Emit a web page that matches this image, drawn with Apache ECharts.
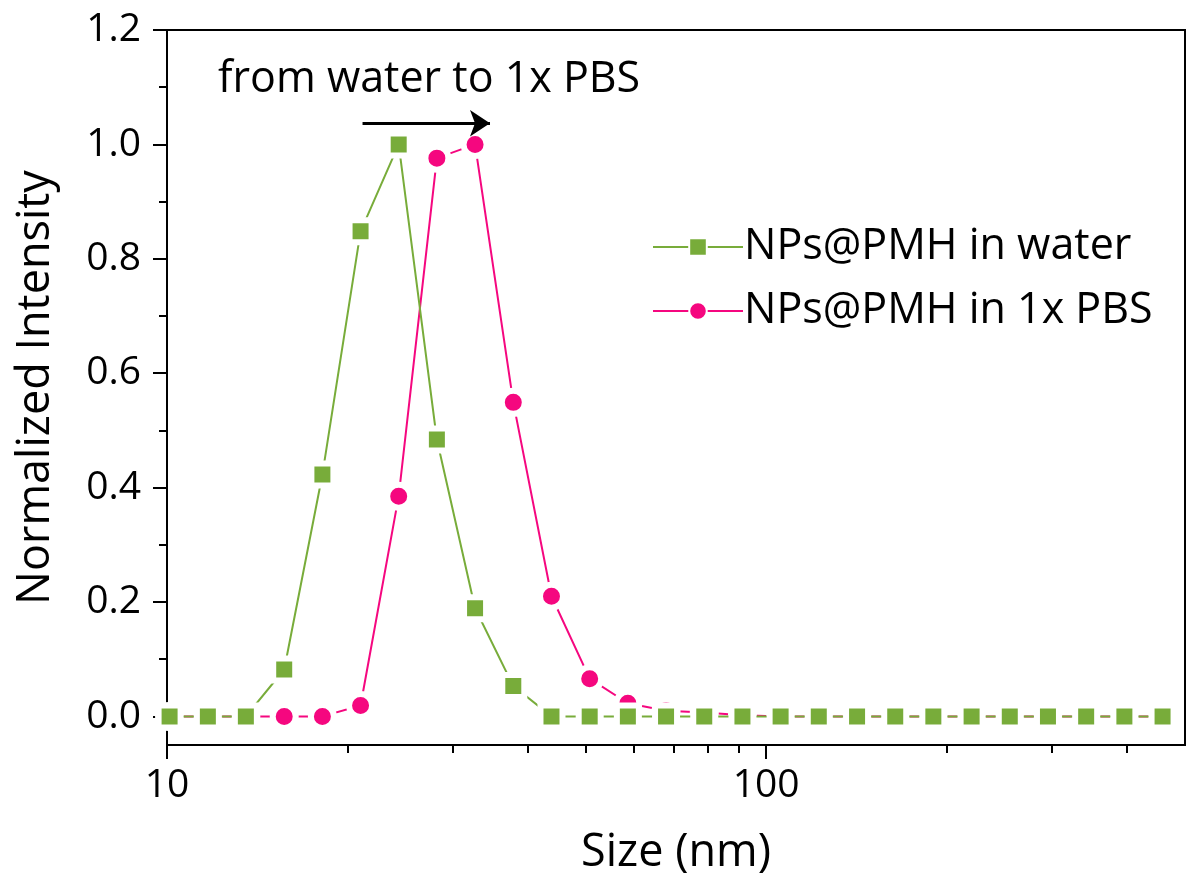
<!DOCTYPE html>
<html>
<head>
<meta charset="utf-8">
<script src="https://cdn.jsdelivr.net/npm/echarts@6/dist/echarts.min.js"></script>
<style>
  html, body { margin: 0; padding: 0; background: #fff; }
  #chart { width: 1187px; height: 881px; }
</style>
</head>
<body>
<div id="chart"></div>
<script>
// ---- data ----
const sizes = [10.1, 11.7, 13.54, 15.69, 18.17, 21.04, 24.36, 28.21, 32.67, 37.84, 43.82, 50.75, 58.77, 68.06, 78.82, 91.28, 105.7, 122.4, 141.8, 164.2, 190.1, 220.2, 255.0, 295.3, 342.0, 396.1, 458.7];
const waterValues = [0, 0, 0, 0.082, 0.423, 0.848, 1.0, 0.484, 0.189, 0.053, 0, 0, 0, 0, 0, 0, 0, 0, 0, 0, 0, 0, 0, 0, 0, 0, 0];
const pbsValues   = [0, 0, 0, 0, 0, 0.019, 0.385, 0.976, 1.0, 0.549, 0.21, 0.066, 0.023, 0.010, 0.007, 0.002, 0, 0, 0, 0, 0, 0, 0, 0, 0, 0, 0];
const seriesNames = ['NPs@PMH in water', 'NPs@PMH in 1x PBS'];
const xMajorTicks = [10, 100];
const xMinorTicks = [20, 30, 40, 50, 60, 70, 80, 90, 200, 300, 400];
const yMajorTicks = [0, 0.2, 0.4, 0.6, 0.8, 1.0, 1.2];
const yMinorTicks = [0.1, 0.3, 0.5, 0.7, 0.9, 1.1];
const arrowFrom = [21.2, 1.037];
const arrowTo = [34.6, 1.037];
const annotationText = 'from water to 1x PBS';

const FONT = '"Open Sans", "Noto Sans", sans-serif';
const GREEN = '#78AC3A';
const PINK = '#F5077F';
const TICK_FS = 39;
const TEXT_FS = 43;
const TITLE_FS = 45;

const chart = echarts.init(document.getElementById('chart'), null, { renderer: 'canvas' });

const pairs = (xs, ys) => xs.map((x, i) => [x, ys[i]]);

const option = {
  animation: false,
  backgroundColor: '#fff',
  textStyle: { fontFamily: FONT },
  grid: {
    left: 167, right: 2, top: 30, bottom: 136,
    show: true, borderColor: '#000', borderWidth: 2, backgroundColor: 'transparent'
  },
  legend: {
    orient: 'vertical',
    left: 647, top: 217,
    itemWidth: 90, itemHeight: 22, itemGap: 14,
    data: seriesNames,
    textStyle: { fontFamily: FONT, fontSize: TEXT_FS, color: '#000', lineHeight: 50, padding: [0, 0, 0, -4] },
    selectedMode: false
  },
  xAxis: [
    {
      type: 'log', logBase: 10, min: 10, max: 500, position: 'bottom',
      name: 'Size (nm)', nameLocation: 'middle', nameGap: 86,
      nameTextStyle: { fontFamily: FONT, fontSize: TITLE_FS, color: '#000' },
      axisLine: { show: true, onZero: false, lineStyle: { color: '#000', width: 2 } },
      axisTick: { show: true, inside: false, length: 14, lineStyle: { color: '#000', width: 2 }, customValues: xMajorTicks },
      axisLabel: { show: true, margin: 21, fontFamily: FONT, fontSize: TICK_FS, color: '#000', customValues: xMajorTicks },
      splitLine: { show: false }, minorTick: { show: false }
    },
    {
      type: 'log', logBase: 10, min: 10, max: 500, position: 'bottom',
      axisLine: { show: false, onZero: false },
      axisTick: { show: true, inside: false, length: 8, lineStyle: { color: '#000', width: 2 }, customValues: xMinorTicks },
      axisLabel: { show: false },
      splitLine: { show: false }
    }
  ],
  yAxis: [
    {
      type: 'value', min: -0.05, max: 1.2, position: 'left',
      name: 'Normalized Intensity', nameLocation: 'middle', nameGap: 108, nameRotate: 90,
      nameTextStyle: { fontFamily: FONT, fontSize: TITLE_FS, color: '#000' },
      axisLine: { show: true, onZero: false, lineStyle: { color: '#000', width: 2 } },
      axisTick: { show: true, inside: false, length: 14, lineStyle: { color: '#000', width: 2 }, customValues: yMajorTicks },
      axisLabel: { show: true, margin: 26, fontFamily: FONT, fontSize: TICK_FS, color: '#000', customValues: yMajorTicks, formatter: v => Number(v).toFixed(1) },
      splitLine: { show: false }
    },
    {
      type: 'value', min: -0.05, max: 1.2, position: 'left',
      axisLine: { show: false, onZero: false },
      axisTick: { show: true, inside: false, length: 8, lineStyle: { color: '#000', width: 2 }, customValues: yMinorTicks },
      axisLabel: { show: false },
      splitLine: { show: false }
    }
  ],
  graphic: [
    {
      type: 'text', left: 218, top: 58, silent: true,
      style: { text: annotationText, font: `${TEXT_FS}px ${FONT}`, fill: '#000' }
    }
  ],
  series: [
    {
      name: seriesNames[1], type: 'line', xAxisIndex: 0, yAxisIndex: 0,
      data: pairs(sizes, pbsValues), z: 2,
      symbol: 'circle', symbolSize: 23,
      lineStyle: { color: PINK, width: 2 },
      itemStyle: { color: PINK, borderColor: '#fff', borderWidth: 6 },
      emphasis: { disabled: true },
      markLine: {
        silent: true, symbol: ['none', 'arrow'], symbolSize: 20,
        lineStyle: { color: '#000', width: 3, type: 'solid' },
        itemStyle: { color: '#000', borderWidth: 0 },
        label: { show: false }, emphasis: { disabled: true },
        data: [[{ coord: arrowFrom, symbol: 'none' }, { coord: arrowTo, symbol: 'arrow', symbolSize: 20, itemStyle: { color: '#000', borderWidth: 0 } }]]
      }
    },
    {
      name: seriesNames[0], type: 'line', xAxisIndex: 0, yAxisIndex: 0,
      data: pairs(sizes, waterValues), z: 3,
      symbol: 'rect', symbolSize: 22,
      lineStyle: { color: GREEN, width: 2 },
      itemStyle: { color: GREEN, borderColor: '#fff', borderWidth: 6 },
      emphasis: { disabled: true }
    }
  ]
};
chart.setOption(option);
</script>
</body>
</html>
